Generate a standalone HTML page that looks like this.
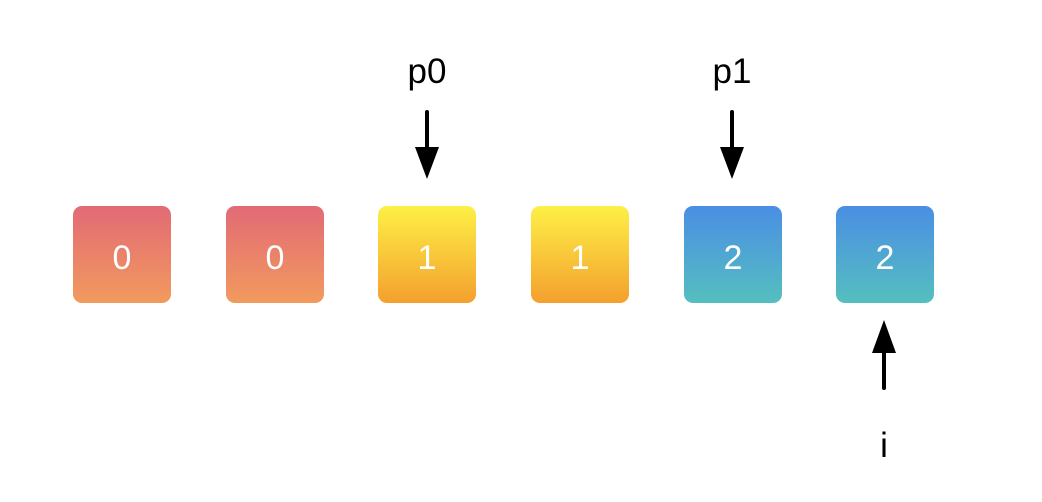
<!DOCTYPE html>
<html><head><style>
body{margin:0;width:1042px;height:502px;background:#fff;position:relative;overflow:hidden;font-family:"Liberation Sans",sans-serif}
.b{position:absolute;top:206px;width:98px;height:97px;border-radius:9px;color:#fff;font-size:34px;line-height:104px;text-align:center}
.r{background:linear-gradient(#e26a76,#f29a5e)}
.y{background:linear-gradient(#fdf046,#f4a02e)}
.u{background:linear-gradient(#4a8ee4,#55bfbf)}
.t{position:absolute;font-size:35px;color:#000;width:100px;text-align:center}
</style></head><body>
<div class="b r" style="left:73px">0</div>
<div class="b r" style="left:226px">0</div>
<div class="b y" style="left:378px">1</div>
<div class="b y" style="left:531px">1</div>
<div class="b u" style="left:684px">2</div>
<div class="b u" style="left:836px">2</div>
<div class="t" style="left:377px;top:52px">p0</div>
<div class="t" style="left:682px;top:52px">p1</div>
<div class="t" style="left:834px;top:426px">i</div>
<svg width="1042" height="502" style="position:absolute;left:0;top:0">
<g stroke="#000" stroke-width="4" stroke-linecap="round">
<line x1="427" y1="112" x2="427" y2="150"/>
<line x1="732" y1="112" x2="732" y2="150"/>
<line x1="884" y1="350" x2="884" y2="388"/>
</g>
<polygon points="415,147 439,147 427,179"/>
<polygon points="720,147 744,147 732,179"/>
<polygon points="872,353 896,353 884,320"/>
</svg>
</body></html>
